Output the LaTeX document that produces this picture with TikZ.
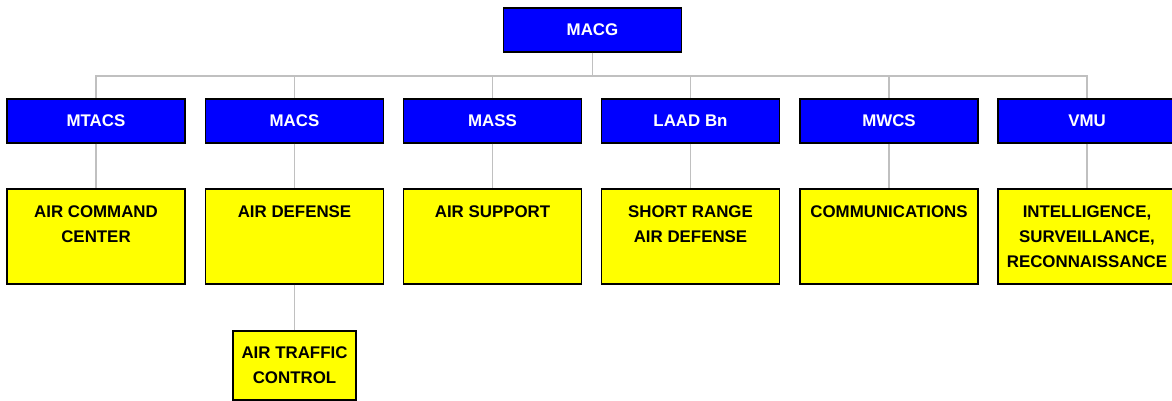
\documentclass[tikz,border=0pt]{standalone}
\usepackage{fontspec}
\setmainfont{Liberation Sans}
\usetikzlibrary{positioning}
\definecolor{boxblue}{RGB}{0,0,255}
\definecolor{boxyellow}{RGB}{255,255,0}
\definecolor{linegray}{RGB}{192,192,192}
\begin{document}
\begin{tikzpicture}[x=0.025cm,y=-0.025cm,
    hd/.style={draw=black,line width=0.9pt,fill=boxblue,
               minimum width=4.45cm,minimum height=1.1cm,inner sep=0pt,
               font=\bfseries\fontsize{12}{17.8}\selectfont,text=white},
    tk/.style={draw=black,line width=0.9pt,fill=boxyellow,
               minimum width=4.45cm,minimum height=2.375cm,inner sep=0pt},
    tx/.style={anchor=north,yshift=-0.43cm,inner sep=0pt,align=center,
               font=\bfseries\fontsize{12}{17.8}\selectfont},
    ln/.style={draw=linegray,line width=1.4pt}]
  \useasboundingbox (0,0) rectangle (1172,401);
  \node[hd] (macg) at (592.5,30) {MACG};
  \coordinate (bus) at (592.5,76);
  \draw[ln] (macg) -- (bus);
  \foreach \n/\x/\t/\s in {mtacs/96/{MTACS}/{AIR COMMAND\\CENTER},
      macs/294.5/{MACS}/{AIR DEFENSE},
      mass/492.5/{MASS}/{AIR SUPPORT},
      laad/690.5/{LAAD Bn}/{SHORT RANGE\\AIR DEFENSE},
      mwcs/889/{MWCS}/{COMMUNICATIONS},
      vmu/1087/{VMU}/{INTELLIGENCE,\\SURVEILLANCE,\\RECONNAISSANCE}} {
    \node[hd] (\n) at (\x,121) {\t};
    \node[tk,label={[tx]north:{\s}}] (\n-f) at (\x,236.5) {};
    \draw[ln] (bus) -| (\n);
    \draw[ln] (\n) -- (\n-f);
  }
  % air traffic control below air defense
  \node[tk,minimum width=3.075cm,minimum height=1.725cm,align=center,
        font=\bfseries\fontsize{12}{17.8}\selectfont] (atc) at (294.5,365.5)
        {AIR TRAFFIC\\CONTROL};
  \draw[ln] (macs-f) -- (atc);
\end{tikzpicture}
\end{document}
